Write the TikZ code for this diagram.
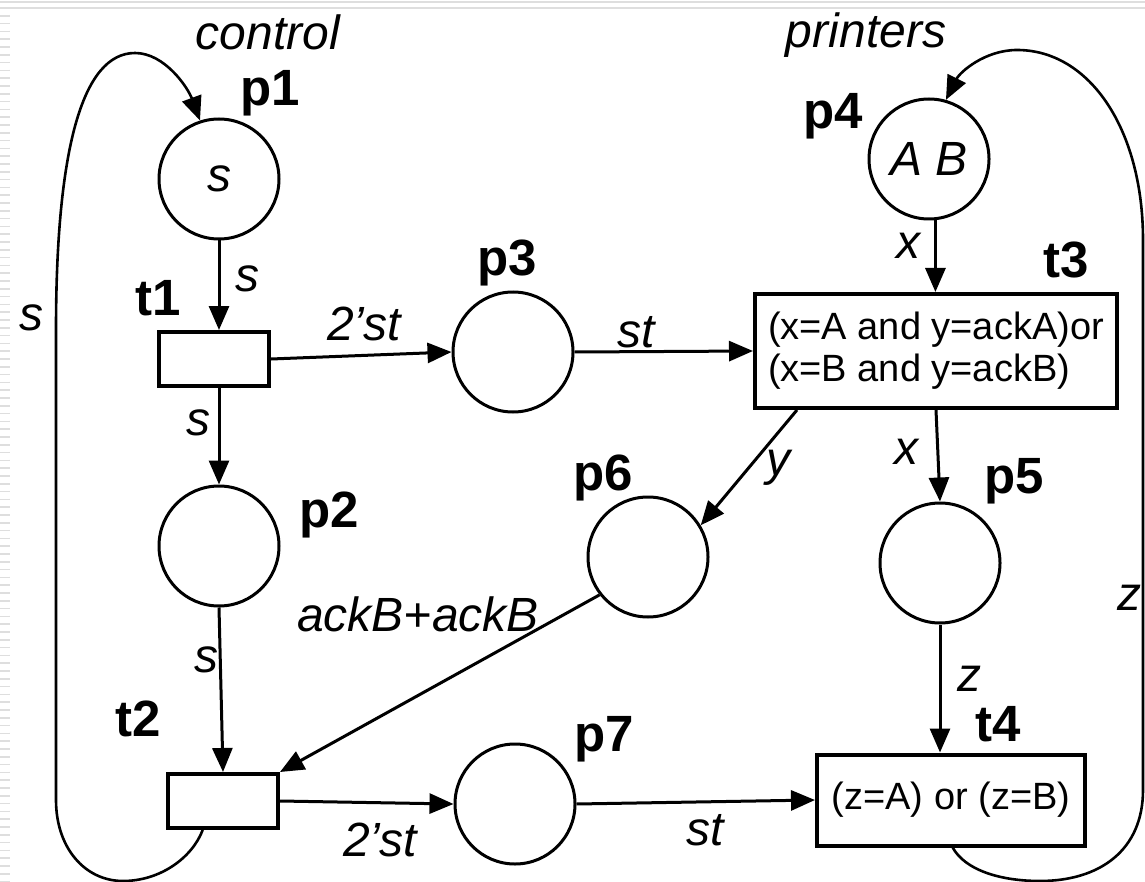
\documentclass[tikz,border=0pt]{standalone}
\usepackage{fontspec}
\setmainfont{Liberation Sans}
\usetikzlibrary{arrows.meta}
\begin{document}
\begin{tikzpicture}[x=0.5pt,y=-0.5pt,
  place/.style={circle,draw,line width=1.5pt,minimum size=60pt,inner sep=0pt,font=\fontsize{24}{28}\selectfont\itshape},
  trans/.style={rectangle,draw,line width=2pt,inner sep=0pt,font=\fontsize{19}{21}\selectfont},
  lbl/.style={font=\fontsize{25.5}{30}\selectfont\bfseries,inner sep=0pt},
  ilbl/.style={font=\fontsize{24}{28}\selectfont\itshape,inner sep=0pt},
  arc/.style={line width=1.5pt,-{Triangle[length=12pt,width=10pt]}},
  loopedge/.style={line width=1.3pt,-{Triangle[length=12pt,width=10pt]}},
  deco/.style={draw=black!13,line width=0.8pt}
]
\useasboundingbox (0,0) rectangle (1145,882);
\fill[white] (0,0) rectangle (1145,882);
% slide decoration
\draw[deco] (0,2) -- (1145,2);
\draw[deco] (0,8) -- (1145,8);
\draw[black!13,line width=5pt,dash pattern=on 0.8pt off 3.1pt] (5,15) -- (5,882);

% places
\node[place] (p1) at (219,179) {s};
\node[place] (p2) at (219,546) {};
\node[place] (p3) at (513,352) {};
\node[place] (p4) at (929,159) {A B};
\node[place] (p5) at (940,563) {};
\node[place] (p6) at (648,557) {};
\node[place] (p7) at (515,804) {};

% transitions
\node[trans,minimum width=55pt,minimum height=27pt] (t1) at (214,359) {};
\node[trans,minimum width=55pt,minimum height=27pt] (t2) at (223,801) {};
\node[trans,minimum width=181pt,minimum height=57pt,align=left] (t3) at (936,351)
  {(x=A and y=ackA)or\\(x=B and y=ackB)};
\node[trans,minimum width=134pt,minimum height=45.5pt] (t4) at (951,800) {(z=A) or (z=B)};

% labels
\node[ilbl] (lcontrol) at (268,32) {control};
\node[ilbl] (lprinters) at (866,35) {printers};
\node[lbl] (lp1) at (270,93) {p1};
\node[lbl] (lp2) at (329,515) {p2};
\node[lbl] (lp3) at (507,263) {p3};
\node[lbl] (lp4) at (833,116) {p4};
\node[lbl] (lp5) at (1014,481) {p5};
\node[lbl] (lp6) at (603,478) {p6};
\node[lbl] (lp7) at (604,739) {p7};
\node[lbl] (lt1) at (158,298) {t1};
\node[lbl] (lt2) at (138,719) {t2};
\node[lbl] (lt3) at (1066,260) {t3};
\node[lbl] (lt4) at (998,724) {t4};

% arcs
\draw[arc] (p1.south) -- (p1.south |- t1.north);
\draw[arc] (t1.south -| p2.north) -- (p2.north);
\draw[arc] (t1.east) -- (p3.west);
\draw[arc] (p3.east) -- (t3.west);
\draw[arc] (p4.-84) -- (p4.-84 |- t3.north);
\draw[arc] (t3.south) -- (p5.north);
\draw[arc] (t3.-157) -- (p6.31);
\draw[arc] (p5.south) -- (p5.south |- t4.north);
\draw[arc] (p2.south) -- (t2.north);
\draw[arc] (p6.-142) -- (t2.north east);
\draw[arc] (t2.east) -- (p7.west);
\draw[arc] (p7.east) -- (t4.west);

% loops
\coordinate (lbot) at (123,881);
\coordinate (ltop) at (135,53);
\coordinate (rbot) at (1040,881);
\coordinate (rtop) at (1017,50);
\draw[loopedge] (t2.-125) .. controls (192,858) and (160,881) .. (lbot)
  .. controls (85,881) and (56,848) .. (56,800) -- (56,330)
  .. controls (56,150) and (82,53) .. (ltop)
  .. controls (165,53) and (188,88) .. (p1.108);
\draw[loopedge] (t4.-88) .. controls (965,870) and (1000,881) .. (rbot)
  .. controls (1100,881) and (1143,850) .. (1143,790) -- (1143,240)
  .. controls (1143,130) and (1090,50) .. (rtop)
  .. controls (985,50) and (960,72) .. (p4.74);

% arc inscriptions
\node[ilbl] (a1) at (247,279) {s};
\node[ilbl] (a2) at (198,423) {s};
\node[ilbl] (a3) at (364,324) {2’st};
\node[ilbl] (a4) at (636,332) {st};
\node[ilbl] (a5) at (908,246) {x};
\node[ilbl] (a6) at (778,468) {y};
\node[ilbl] (a7) at (906,452) {x};
\node[ilbl] (a8) at (418,614) {ackB+ackB};
\node[ilbl] (a9) at (206,660) {s};
\node[ilbl] (a10) at (380,840) {2’st};
\node[ilbl] (a11) at (705,830) {st};
\node[ilbl] (a12) at (969,679) {z};
\node[ilbl] (a13) at (31,318) {s};
\node[ilbl] (a14) at (1129,598) {z};
\end{tikzpicture}
\end{document}
